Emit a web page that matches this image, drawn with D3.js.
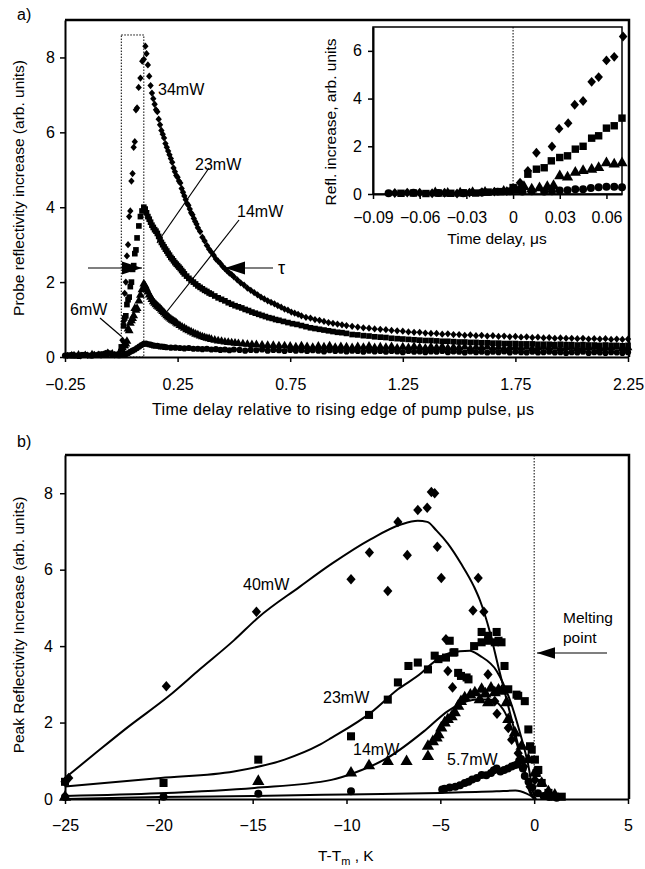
<!DOCTYPE html>
<html>
<head>
<meta charset="utf-8">
<script src="https://cdn.jsdelivr.net/npm/d3@7/dist/d3.min.js"></script>
<style>
body { margin: 0; background: #fff; }
</style>
</head>
<body>
<div id="chart-area"></div>
<script>
// ---- panel a: main plot, [time us, reflectivity] ----
var a34 = [[-0.24,0.04],[-0.21,0.06],[-0.18,0.03],[-0.15,0.05],[-0.12,0.07],[-0.09,0.05],[-0.06,0.13],[-0.03,0.06],[0,0.2],
  [0.005,0.45],[0.01,0.95],[0.015,1.7],[0.02,2.0],[0.025,2.7],[0.03,3.0],[0.035,3.75],[0.04,3.9],[0.045,4.7],[0.05,4.9],[0.055,5.6],[0.06,5.75],[0.065,6.6],[0.07,6.65],[0.077,7.2],[0.085,7.45],[0.093,7.9],[0.1,7.95],[0.107,8.3],
  [0.112,8.1],[0.118,7.8],[0.124,7.5],[0.13,7.25],[0.136,7.05],[0.142,6.9],[0.148,6.75],[0.154,6.6],[0.16,6.55],[0.166,6.35],[0.172,6.2],[0.178,6.05],[0.184,5.95],[0.19,5.85],[0.196,5.7],[0.202,5.6],[0.208,5.5],[0.214,5.4],[0.22,5.3],[0.226,5.2],[0.232,5.05],[0.238,4.95],[0.244,4.85],[0.25,4.8],[0.256,4.7],[0.262,4.65],[0.268,4.5],[0.274,4.4],[0.28,4.3],[0.286,4.2],[0.292,4.1],[0.298,4.05],[0.304,3.95],[0.31,3.85],[0.316,3.8],[0.322,3.7],[0.328,3.62],[0.334,3.55],[0.34,3.45],[0.35,3.35],[0.36,3.2],[0.37,3.1],[0.38,2.98],[0.39,2.88],[0.4,2.8],[0.41,2.72],[0.42,2.62],[0.43,2.56],[0.44,2.5],[0.45,2.42],[0.46,2.36],[0.47,2.3],[0.48,2.24],[0.49,2.2],[0.5,2.14],
  [0.515,2.06],[0.53,1.98],[0.545,1.92],[0.56,1.84],[0.575,1.78],[0.59,1.72],[0.605,1.66],[0.62,1.6],[0.635,1.55],[0.65,1.5],[0.665,1.46],[0.68,1.42],[0.695,1.37],[0.71,1.33],[0.725,1.28],[0.74,1.25],[0.755,1.2],[0.77,1.17],[0.785,1.14],[0.8,1.1],[0.82,1.06],[0.84,1.04],[0.86,1.0],[0.88,0.98],[0.9,0.95],[0.92,0.92],[0.94,0.9],[0.96,0.88],[0.98,0.86],[1.0,0.84],
  [1.025,0.82],[1.05,0.8],[1.075,0.78],[1.1,0.77],[1.125,0.75],[1.15,0.74],[1.175,0.73],[1.2,0.71],[1.225,0.7],[1.25,0.69],[1.275,0.67],[1.3,0.66],[1.325,0.66],[1.35,0.64],[1.375,0.63],[1.4,0.63],[1.425,0.61],[1.45,0.62],[1.475,0.6],[1.5,0.6],[1.525,0.58],[1.55,0.59],[1.575,0.57],[1.6,0.58],[1.625,0.56],[1.65,0.57],[1.675,0.55],[1.7,0.56],[1.725,0.54],[1.75,0.55],[1.775,0.53],[1.8,0.54],[1.825,0.52],[1.85,0.53],[1.875,0.51],[1.9,0.52],[1.925,0.5],[1.95,0.51],[1.975,0.5],[2.0,0.5],[2.025,0.49],[2.05,0.5],[2.075,0.48],[2.1,0.49],[2.125,0.48],[2.15,0.49],[2.175,0.47],[2.2,0.48],[2.225,0.47],[2.25,0.48]]

var a23 = [[-0.23,0.05],[-0.2,0.04],[-0.17,0.06],[-0.14,0.04],[-0.11,0.05],[-0.08,0.08],[-0.05,0.1],[-0.02,0.07],
  [0,0.27],[0.005,0.2],[0.01,0.83],[0.015,1.04],[0.02,1.1],[0.025,1.4],[0.03,1.53],[0.035,1.6],[0.04,1.88],[0.045,2.0],[0.05,2.34],[0.055,2.44],[0.06,2.76],[0.065,2.86],[0.07,3.18],[0.078,3.5],[0.085,3.75],[0.092,3.9],[0.1,4.0],
  [0.106,3.95],[0.112,3.85],[0.118,3.75],[0.124,3.68],[0.13,3.6],[0.136,3.52],[0.142,3.46],[0.148,3.4],[0.154,3.36],[0.16,3.3],[0.166,3.22],[0.172,3.14],[0.178,3.06],[0.184,3.0],[0.19,2.94],[0.196,2.88],[0.202,2.83],[0.208,2.77],[0.214,2.72],[0.22,2.66],[0.226,2.62],[0.232,2.57],[0.238,2.52],[0.244,2.48],[0.25,2.44],[0.256,2.4],[0.262,2.36],[0.268,2.31],[0.274,2.27],[0.28,2.22],[0.29,2.16],[0.3,2.1],[0.31,2.05],[0.32,2.0],[0.33,1.95],[0.34,1.9],[0.35,1.86],[0.36,1.82],[0.37,1.78],[0.38,1.75],[0.39,1.71],[0.4,1.68],
  [0.415,1.63],[0.43,1.58],[0.445,1.54],[0.46,1.5],[0.475,1.45],[0.49,1.41],[0.505,1.37],[0.52,1.34],[0.535,1.31],[0.55,1.27],[0.565,1.24],[0.58,1.2],[0.595,1.17],[0.61,1.14],[0.625,1.11],[0.64,1.08],[0.655,1.05],[0.67,1.03],[0.685,1.0],[0.7,0.98],[0.72,0.95],[0.74,0.92],[0.76,0.89],[0.78,0.87],[0.8,0.84],[0.82,0.81],[0.84,0.78],[0.86,0.76],[0.88,0.74],[0.9,0.72],[0.92,0.7],[0.94,0.68],[0.96,0.66],[0.98,0.65],[1.0,0.63],
  [1.025,0.6],[1.05,0.59],[1.075,0.57],[1.1,0.56],[1.125,0.54],[1.15,0.53],[1.175,0.52],[1.2,0.5],[1.225,0.49],[1.25,0.48],[1.275,0.47],[1.3,0.46],[1.325,0.45],[1.35,0.44],[1.375,0.44],[1.4,0.43],[1.425,0.42],[1.45,0.42],[1.475,0.41],[1.5,0.4],[1.525,0.4],[1.55,0.39],[1.575,0.39],[1.6,0.38],[1.625,0.38],[1.65,0.37],[1.675,0.37],[1.7,0.36],[1.725,0.36],[1.75,0.36],[1.775,0.35],[1.8,0.35],[1.825,0.35],[1.85,0.34],[1.875,0.34],[1.9,0.34],[1.925,0.33],[1.95,0.34],[1.975,0.33],[2.0,0.33],[2.025,0.32],[2.05,0.33],[2.075,0.32],[2.1,0.32],[2.125,0.31],[2.15,0.32],[2.175,0.31],[2.2,0.31],[2.225,0.3],[2.25,0.31]]

var a14 = [[-0.22,0.03],[-0.19,0.05],[-0.16,0.04],[-0.13,0.06],[-0.1,0.04],[-0.07,0.06],[-0.04,0.08],[-0.01,0.1],
  [0.005,0.25],[0.01,0.3],[0.015,0.3],[0.02,0.35],[0.025,0.42],[0.03,0.75],[0.035,0.7],[0.04,0.9],[0.045,0.97],[0.05,1.03],[0.055,1.1],[0.06,1.3],[0.065,1.25],[0.07,1.3],[0.078,1.5],[0.085,1.65],[0.092,1.8],[0.1,1.95],
  [0.106,1.9],[0.112,1.82],[0.118,1.74],[0.124,1.66],[0.13,1.6],[0.136,1.54],[0.142,1.48],[0.148,1.44],[0.154,1.4],[0.16,1.36],[0.166,1.33],[0.172,1.3],[0.178,1.26],[0.184,1.22],[0.19,1.18],[0.196,1.14],[0.202,1.1],[0.208,1.07],[0.214,1.04],[0.22,1.01],[0.226,0.98],[0.232,0.96],[0.238,0.94],[0.244,0.91],[0.25,0.88],[0.26,0.84],[0.27,0.8],[0.28,0.77],[0.29,0.73],[0.3,0.7],[0.31,0.67],[0.32,0.64],[0.33,0.61],[0.34,0.59],[0.35,0.56],[0.36,0.54],[0.37,0.52],[0.38,0.5],[0.39,0.49],[0.4,0.47],
  [0.415,0.45],[0.43,0.43],[0.445,0.42],[0.46,0.4],[0.475,0.39],[0.49,0.38],[0.505,0.37],[0.52,0.36],[0.54,0.35],[0.56,0.34],[0.58,0.33],[0.6,0.33],[0.625,0.32],[0.65,0.31],[0.675,0.31],[0.7,0.3],[0.725,0.3],
  [0.75,0.29],[0.775,0.27],[0.8,0.3],[0.825,0.28],[0.85,0.26],[0.875,0.29],[0.9,0.27],[0.925,0.3],[0.95,0.26],[0.975,0.28],[1.0,0.27],[1.025,0.25],[1.05,0.28],[1.075,0.26],[1.1,0.29],[1.125,0.25],[1.15,0.27],[1.175,0.26],[1.2,0.28],[1.225,0.24],[1.25,0.27],[1.275,0.25],[1.3,0.28],[1.325,0.26],[1.35,0.24],[1.375,0.27],[1.4,0.25],[1.425,0.28],[1.45,0.24],[1.475,0.26],[1.5,0.25],[1.525,0.27],[1.55,0.23],[1.575,0.26],[1.6,0.25],[1.625,0.27],[1.65,0.24],[1.675,0.26],[1.7,0.23],[1.725,0.25],[1.75,0.27],[1.775,0.24],[1.8,0.26],[1.825,0.23],[1.85,0.25],[1.875,0.27],[1.9,0.24],[1.925,0.26],[1.95,0.23],[1.975,0.25],[2.0,0.26],[2.025,0.23],[2.05,0.25],[2.075,0.24],[2.1,0.26],[2.125,0.23],[2.15,0.25],[2.175,0.24],[2.2,0.26],[2.225,0.23],[2.25,0.25]]

var a6 = [[-0.25,0.04],[-0.22,0.05],[-0.19,0.03],[-0.16,0.06],[-0.13,0.04],[-0.1,0.07],[-0.07,0.1],[-0.04,0.06],[-0.01,0.05],
  [0.01,0.06],[0.02,0.08],[0.03,0.1],[0.04,0.14],[0.05,0.17],[0.06,0.2],[0.07,0.24],[0.08,0.28],[0.09,0.32],[0.1,0.35],[0.11,0.36],[0.12,0.34],[0.13,0.33],[0.14,0.31],[0.15,0.3],[0.16,0.3],[0.17,0.28],[0.18,0.28],[0.19,0.27],[0.2,0.26],[0.22,0.25],[0.24,0.25],[0.26,0.24],[0.28,0.23],[0.3,0.24],[0.32,0.22],[0.34,0.22],[0.36,0.21],[0.38,0.22],[0.4,0.2],
  [0.42,0.21],[0.44,0.19],[0.46,0.2],[0.48,0.18],[0.5,0.2],[0.525,0.19],[0.55,0.17],[0.575,0.19],[0.6,0.18],[0.625,0.2],[0.65,0.17],[0.675,0.19],[0.7,0.18],[0.725,0.16],[0.75,0.19],[0.775,0.17],[0.8,0.18],[0.825,0.16],[0.85,0.18],[0.875,0.17],[0.9,0.15],[0.925,0.18],[0.95,0.16],[0.975,0.17],[1.0,0.15],[1.025,0.17],[1.05,0.16],[1.075,0.14],[1.1,0.17],[1.125,0.15],[1.15,0.16],[1.175,0.14],[1.2,0.16],[1.225,0.15],[1.25,0.13],[1.275,0.16],[1.3,0.14],[1.325,0.15],[1.35,0.13],[1.375,0.15],[1.4,0.14],[1.425,0.16],[1.45,0.13],[1.475,0.15],[1.5,0.14],[1.525,0.12],[1.55,0.15],[1.575,0.13],[1.6,0.14],[1.625,0.12],[1.65,0.14],[1.675,0.13],[1.7,0.15],[1.725,0.12],[1.75,0.14],[1.775,0.13],[1.8,0.12],[1.825,0.14],[1.85,0.12],[1.875,0.13],[1.9,0.14],[1.925,0.12],[1.95,0.13],[1.975,0.11],[2.0,0.13],[2.025,0.12],[2.05,0.14],[2.075,0.11],[2.1,0.13],[2.125,0.12],[2.15,0.11],[2.175,0.13],[2.2,0.12],[2.225,0.11],[2.25,0.13]]

// ---- panel a: inset ----
var i34 = [[-0.076,0.04],[-0.068,0.06],[-0.06,0.05],[-0.052,0.03],[-0.044,0.05],[-0.036,0.02],[-0.028,0.06],[-0.02,0.08],[-0.012,0.1],[-0.004,0.12],
  [0.0045,0.47],[0.0095,0.97],[0.015,1.73],[0.025,1.99],[0.0296,2.74],[0.0354,2.97],[0.0396,3.74],[0.045,3.9],[0.0505,4.7],[0.055,4.9],[0.06,5.6],[0.065,5.75],[0.0707,6.6]]
var i23 = [[-0.072,0.03],[-0.064,0.04],[-0.056,0.02],[-0.048,0.04],[-0.04,0.03],[-0.032,0.05],[-0.024,0.04],[-0.016,0.08],[-0.008,0.1],
  [0,0.27],[0.005,0.2],[0.0095,0.83],[0.015,1.04],[0.02,1.1],[0.0246,1.39],[0.03,1.53],[0.035,1.6],[0.04,1.88],[0.045,2.0],[0.0505,2.34],[0.055,2.44],[0.06,2.76],[0.065,2.86],[0.07,3.18]]
var i14 = [[-0.05,0.04],[-0.042,0.02],[-0.034,0.03],[-0.026,0.05],[-0.018,0.06],[-0.006,0.1],
  [0.002,0.15],[0.007,0.3],[0.012,0.2],[0.017,0.25],[0.022,0.3],[0.026,0.35],[0.03,0.75],[0.035,0.7],[0.04,0.9],[0.045,0.97],[0.0505,1.03],[0.055,1.1],[0.06,1.3],[0.065,1.25],[0.07,1.3]]
var i6 = [[-0.08,0.03],[-0.064,0.05],[-0.048,0.04],[-0.032,0.03],[-0.02,0.06],[-0.01,0.1],[-0.002,0.12],
  [0.006,0.1],[0.012,0.12],[0.02,0.1],[0.025,0.12],[0.03,0.15],[0.035,0.16],[0.04,0.2],[0.045,0.2],[0.05,0.25],[0.055,0.28],[0.06,0.3],[0.065,0.3],[0.07,0.28]]

// ---- panel b: [T-Tm K, peak reflectivity] ----
var b40 = [[-25,0.45],[-24.8,0.55],[-19.6,2.95],[-14.8,4.9],[-9.76,5.75],[-8.78,6.45],[-7.8,5.44],[-7.26,7.25],[-6.76,6.38],[-6.2,7.56],[-5.7,7.62],[-5.48,8.03],[-5.3,8.0],[-5.16,6.6],[-4.95,5.78],
  [-4.7,4.18],[-4.6,3.35],[-4.35,2.92],[-3.26,4.93],[-2.98,5.78],[-2.68,4.9],[-2.46,3.26],[-2.1,2.56],[-1.98,2.23],[-1.38,1.86],[-1.2,1.55],[-0.85,1.2],[-0.55,0.85],[-0.22,0.32],[0.04,0.5]]
var b23 = [[-25,0.45],[-19.75,0.42],[-14.7,1.03],[-9.76,1.64],[-8.8,2.2],[-7.8,2.6],[-7.26,3.05],[-6.7,3.48],[-6.2,3.57],[-5.66,3.39],[-5.3,3.75],[-5.1,3.66],[-4.7,3.7],[-4.5,4.14],[-4.3,3.83],[-4.25,3.84],[-4.05,3.3],[-3.9,3.22],[-3.6,3.18],[-3.5,3.13],[-3.2,4.0],[-2.8,4.1],[-2.8,4.37],[-2.45,4.14],[-2.45,4.27],[-2.1,4.1],[-2.0,4.37],[-1.9,4.14],[-1.74,4.1],
  [-1.58,3.48],[-1.38,2.87],[-0.94,2.73],[-0.85,2.7],[-0.5,2.56],[-0.31,1.82],[-0.22,1.38],[-0.13,1.29],[0.04,1.03],[0.13,0.68],[0.22,0.76],[0.4,0.42],[0.76,0.16],[1.1,0.06],[1.47,0.06]]
var b14 = [[-25,0.05],[-14.7,0.46],[-9.76,0.68],[-8.8,0.87],[-7.8,0.98],[-6.8,0.98],[-5.66,1.11],[-5.66,1.38],[-5.4,1.5],[-5.2,1.6],[-5.1,1.68],[-4.95,1.86],[-4.77,1.99],[-4.6,2.08],[-4.4,2.15],[-4.23,2.26],[-4.05,2.43],[-3.9,2.55],[-3.7,2.65],[-3.4,2.72],[-3.16,2.78],[-2.9,2.6],[-2.8,2.87],[-2.6,2.75],[-2.45,2.52],[-2.3,2.9],[-2.1,2.78],[-1.9,2.85],[-1.74,2.82],[-1.47,2.52],[-1.38,2.08],[-1.03,1.73],[-0.67,1.38],[-0.31,1.03],[0.04,0.68],[0.4,0.41],[0.76,0.19],[1.1,0.1]]
var b6 = [[-25,0.05],[-19.75,0.06],[-14.7,0.14],[-9.76,0.2],[-4.9,0.25],[-4.77,0.27],[-4.5,0.3],[-4.2,0.32],[-3.95,0.36],[-3.7,0.42],[-3.5,0.45],[-3.3,0.51],[-3.05,0.55],[-2.8,0.63],[-2.55,0.62],[-2.3,0.68],[-2.15,0.75],[-2.0,0.8],[-1.8,0.72],[-1.6,0.76],[-1.4,0.8],[-1.2,0.85],[-1.05,0.88],[-0.9,0.9],[-0.8,1.0],[-0.7,1.05],[-0.6,0.8],[-0.5,0.6],[-0.3,0.45],[-0.1,0.3],[0.2,0.15],[0.5,0.08],[0.8,0.05],[1.2,0.03]]

// fitted curves in panel b
var fit40 = [[-25,0.55],[-23.5,1.15],[-21.6,1.9],[-19.5,2.68],[-17.8,3.4],[-16,4.15],[-14.7,4.75],[-12.5,5.55],[-10.8,6.15],[-8.7,6.8],[-7.1,7.18],[-6.2,7.28],[-5.7,7.25],[-5.2,7.02],[-4.6,6.68],[-3.9,6.16],[-3.2,5.55],[-2.89,5.2],[-2.36,4.37],[-1.92,3.48],[-1.47,2.6],[-1.02,1.74],[-0.58,0.85],[-0.22,0.16],[0,0]]
var fit23 = [[-25,0.33],[-19.9,0.55],[-16,0.72],[-13.3,1.03],[-11.5,1.4],[-10.8,1.6],[-8.7,2.26],[-7.26,2.87],[-6.0,3.3],[-5.56,3.5],[-4.5,3.82],[-3.43,3.88],[-2.9,3.75],[-2.0,3.35],[-1.3,2.6],[-0.76,1.74],[-0.3,0.85],[-0.05,0.16],[0.1,0]]
var fit14 = [[-25,0.08],[-20,0.15],[-14.9,0.29],[-10.8,0.5],[-9.6,0.68],[-7.8,1.08],[-5.8,1.8],[-4.6,2.3],[-3.5,2.57],[-2.9,2.6],[-2.36,2.6],[-1.65,2.34],[-1.12,1.74],[-0.67,1.03],[-0.22,0.24],[0,0]]
var fit6 = [[-25,0.0],[-20,0.05],[-15,0.08],[-10,0.12],[-5,0.16],[-2,0.2],[-1,0.22],[-0.4,0.14],[0,0.03]]

// ticks
var aTicksX = [-0.25, 0.25, 0.75, 1.25, 1.75, 2.25]
var aTicksY = [0, 2, 4, 6, 8]
var insetTicksX = [-0.09, -0.06, -0.03, 0, 0.03, 0.06]
var insetTicksY = [0, 2, 4, 6]
var bTicksX = [-25, -20, -15, -10, -5, 0, 5]
var bTicksY = [0, 2, 4, 6, 8]

var FONT = "'Liberation Sans', Arial, Helvetica, sans-serif"

var svg = d3.select("#chart-area").append("svg")
  .attr("width", 645).attr("height", 869)
  .style("font-family", FONT)

// rotated square, a bit taller than wide
var diamond = {
  draw: function(ctx, size) {
    var r = Math.sqrt(size) * 0.62
    ctx.moveTo(0, -r * 1.15); ctx.lineTo(r, 0); ctx.lineTo(0, r * 1.15); ctx.lineTo(-r, 0); ctx.closePath()
  }
}

function styleAxis(g) {
  g.attr("font-family", FONT).attr("font-size", 16)
  g.select(".domain").attr("stroke-width", 2)
  g.selectAll(".tick line").attr("stroke-width", 1.5)
  g.selectAll(".tick text").attr("fill", "#000")
}

function points(g, data, x, y, type, size) {
  g.append("g").selectAll("path").data(data).enter()
    .append("path")
    .attr("transform", d => `translate(${x(d[0])},${y(d[1])})`)
    .attr("d", d3.symbol().type(type).size(size))
    .attr("fill", "#000")
}

function label(x, y, txt, size) {
  return svg.append("text").attr("x", x).attr("y", y)
    .attr("font-size", size || 15).attr("fill", "#000").text(txt)
}

function arrow(x1, y1, x2, y2, head) {
  svg.append("line").attr("x1", x1).attr("y1", y1).attr("x2", x2).attr("y2", y2)
    .attr("stroke", "#000").attr("stroke-width", 1.2)
  var dir = Math.sign(x2 - x1)
  svg.append("path")
    .attr("d", `M${x2},${y2} L${x2 - dir * head},${y2 - head * 0.32} L${x2 - dir * head},${y2 + head * 0.32} Z`)
    .attr("fill", "#000")
}

// ================= panel a =================
var xa = d3.scaleLinear().domain([-0.25, 2.25]).range([65, 628])
var ya = d3.scaleLinear().domain([0, 9]).range([357, 20])

svg.append("path").attr("d", `M65,20 H629 V357`).attr("fill", "none")
  .attr("stroke", "#000").attr("stroke-width", 2.5)

svg.append("g").attr("transform", "translate(0,357)")
  .call(d3.axisBottom(xa).tickValues(aTicksX).tickSize(5).tickSizeOuter(0).tickPadding(17).tickFormat(d3.format(".2f")))
  .call(styleAxis)
svg.append("g").attr("transform", "translate(65,0)")
  .call(d3.axisLeft(ya).tickValues(aTicksY).tickSize(5).tickSizeOuter(0).tickPadding(5).tickFormat(d3.format("d")))
  .call(styleAxis)

// dotted rectangle marking the pump pulse
svg.append("rect")
  .attr("x", xa(0)).attr("y", ya(8.6))
  .attr("width", xa(0.1) - xa(0)).attr("height", ya(0) - ya(8.6))
  .attr("fill", "none").attr("stroke", "#000").attr("stroke-width", 1)
  .attr("stroke-dasharray", "1.5,1.5")

var ga = svg.append("g")
points(ga, a6, xa, ya, d3.symbolCircle, 30)
points(ga, a14, xa, ya, d3.symbolTriangle, 34)
points(ga, a23, xa, ya, d3.symbolSquare, 32)
points(ga, a34, xa, ya, diamond, 26)

label(158, 95, "34mW", 16)
label(195, 170, "23mW", 16)
label(237, 217, "14mW", 16)
label(70, 315, "6mW", 16)
svg.append("line").attr("x1", 209).attr("y1", 168).attr("x2", 157).attr("y2", 243).attr("stroke", "#000").attr("stroke-width", 1.2)
svg.append("line").attr("x1", 239).attr("y1", 220).attr("x2", 165).attr("y2", 314).attr("stroke", "#000").attr("stroke-width", 1.2)
svg.append("line").attr("x1", 100).attr("y1", 318).attr("x2", 121).attr("y2", 336).attr("stroke", "#000").attr("stroke-width", 1.2)
arrow(88, 268, 142, 268, 20)
arrow(273, 268, 225, 268, 20)
label(278, 274, "τ", 18)

label(343, 415, "Time delay relative to rising edge of pump pulse, μs", 16)
  .attr("text-anchor", "middle").attr("textLength", 382).attr("lengthAdjust", "spacing")
svg.append("text").attr("transform", "translate(24,188) rotate(-90)")
  .attr("text-anchor", "middle").attr("font-size", 15.5).text("Probe reflectivity increase (arb. units)")
label(17, 20, "a)", 16)

// ---- inset ----
var xi = d3.scaleLinear().domain([-0.09, 0.07]).range([373, 622])
var yi = d3.scaleLinear().domain([0, 7]).range([194, 27])

svg.append("rect").attr("x", 373).attr("y", 27).attr("width", 249).attr("height", 167)
  .attr("fill", "#fff").attr("stroke", "#000").attr("stroke-width", 1.5)
svg.append("line").attr("x1", xi(0)).attr("x2", xi(0)).attr("y1", 27).attr("y2", 194)
  .attr("stroke", "#000").attr("stroke-width", 1).attr("stroke-dasharray", "1.5,1.5")
svg.append("g").attr("transform", "translate(0,194)")
  .call(d3.axisBottom(xi).tickValues(insetTicksX).tickSize(5).tickSizeOuter(0).tickPadding(13).tickFormat(d => d === 0 ? "0" : d3.format(".2f")(d)))
  .call(styleAxis)
svg.append("g").attr("transform", "translate(373,0)")
  .call(d3.axisLeft(yi).tickValues(insetTicksY).tickSize(5).tickSizeOuter(0).tickPadding(6).tickFormat(d3.format("d")))
  .call(styleAxis)

var gi = svg.append("g")
points(gi, i6, xi, yi, d3.symbolCircle, 50)
points(gi, i14, xi, yi, d3.symbolTriangle, 55)
points(gi, i23, xi, yi, d3.symbolSquare, 55)
points(gi, i34, xi, yi, diamond, 48)

label(497, 244, "Time delay, μs", 15.5).attr("text-anchor", "middle")
svg.append("text").attr("transform", "translate(336,122) rotate(-90)")
  .attr("text-anchor", "middle").attr("font-size", 15.5).text("Refl. increase, arb. units")

// ================= panel b =================
var xb = d3.scaleLinear().domain([-25, 5]).range([65, 628])
var yb = d3.scaleLinear().domain([0, 9]).range([799, 455])

svg.append("path").attr("d", `M65,455 H629 V799`).attr("fill", "none")
  .attr("stroke", "#000").attr("stroke-width", 2.5)
svg.append("g").attr("transform", "translate(0,799)")
  .call(d3.axisBottom(xb).tickValues(bTicksX).tickSize(5).tickSizeOuter(0).tickPadding(16))
  .call(styleAxis)
svg.append("g").attr("transform", "translate(65,0)")
  .call(d3.axisLeft(yb).tickValues(bTicksY).tickSize(5).tickSizeOuter(0).tickPadding(7))
  .call(styleAxis)

svg.append("line").attr("x1", xb(0)).attr("x2", xb(0)).attr("y1", 455).attr("y2", 799)
  .attr("stroke", "#000").attr("stroke-width", 1).attr("stroke-dasharray", "1.5,1.5")

var gb = svg.append("g")
points(gb, b6, xb, yb, d3.symbolCircle, 50)
points(gb, b14, xb, yb, d3.symbolTriangle, 65)
points(gb, b23, xb, yb, d3.symbolSquare, 65)
points(gb, b40, xb, yb, diamond, 55)

var line = d3.line().x(d => xb(d[0])).y(d => yb(d[1])).curve(d3.curveMonotoneX)
;[fit6, fit14, fit23, fit40].forEach(f => {
  gb.append("path").attr("d", line(f)).attr("fill", "none").attr("stroke", "#000").attr("stroke-width", 2)
})

label(243, 590, "40mW", 16)
label(323, 703, "23mW", 16)
label(353, 755, "14mW", 16)
label(447, 765, "5.7mW", 16)
label(563, 623, "Melting", 15.5)
label(563, 643, "point", 15.5)
arrow(607, 653, 537, 653, 18)

var xt = svg.append("text").attr("x", 318).attr("y", 861).attr("font-size", 15.5)
xt.append("tspan").text("T-T")
xt.append("tspan").attr("font-size", 11).attr("dy", 4).text("m")
xt.append("tspan").attr("dy", -4).text(" , K")
svg.append("text").attr("transform", "translate(24,625) rotate(-90)")
  .attr("text-anchor", "middle").attr("font-size", 15.5).text("Peak Reflectivity Increase (arb. units)")
label(17, 447, "b)", 16)
</script>
</body>
</html>
